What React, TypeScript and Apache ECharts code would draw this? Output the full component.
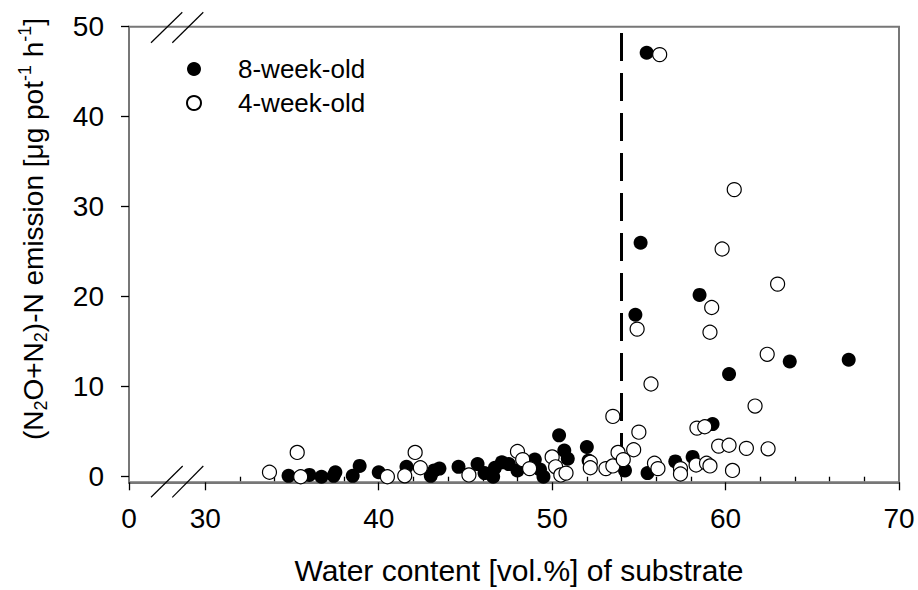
import React, { useEffect, useRef } from 'react';
import * as echarts from 'echarts';

// ---------- data ----------
const seriesNames = ['8-week-old', '4-week-old'];

// 8-week-old plants (filled circles): [water content vol.%, emission µg pot-1 h-1]
const week8: [number, number][] = [
  [34.8, 0.1], [36.0, 0.2], [36.7, 0.0], [37.4, 0.1], [37.5, 0.5], [38.5, 0.1],
  [38.9, 1.2], [40.0, 0.5], [41.6, 1.1], [43.0, 0.1], [43.2, 0.7], [43.5, 0.9],
  [44.6, 1.1], [45.7, 1.4], [46.1, 0.4], [46.6, 0.0], [46.7, 1.0], [47.1, 1.6],
  [47.5, 1.4], [48.0, 0.7], [49.0, 1.9], [49.3, 0.8], [49.5, 0.0], [50.4, 4.6],
  [50.7, 2.9], [50.9, 2.0], [52.0, 3.3], [52.1, 1.8], [54.2, 0.7], [55.5, 0.4],
  [57.1, 1.7], [58.1, 2.2], [59.25, 5.85], [60.2, 11.4], [63.7, 12.8], [67.1, 13.0],
  [55.1, 26.0], [58.5, 20.2], [54.8, 18.0], [55.45, 47.1],
];

// 4-week-old plants (open circles)
const week4: [number, number][] = [
  [33.7, 0.5], [35.3, 2.7], [35.5, 0.0], [40.5, 0.0], [41.5, 0.1], [42.1, 2.7],
  [42.4, 1.0], [45.2, 0.2], [48.0, 2.8], [48.3, 1.9], [48.7, 0.9], [50.0, 2.2],
  [50.2, 1.1], [50.5, 0.2], [50.8, 0.4], [52.2, 1.6], [52.2, 1.0], [53.1, 0.9],
  [53.5, 1.2], [53.5, 6.7], [53.8, 2.7], [54.1, 1.9], [54.7, 3.0], [55.0, 4.95],
  [55.7, 10.3], [55.9, 1.5], [56.1, 0.9], [57.4, 0.9], [57.4, 0.3], [58.3, 1.3],
  [58.35, 5.4], [58.8, 5.55], [58.9, 1.5], [59.1, 1.2], [59.6, 3.4], [60.2, 3.5],
  [60.4, 0.7], [61.2, 3.15], [61.7, 7.85], [62.45, 3.1], [60.5, 31.9], [59.8, 25.3],
  [63.0, 21.4], [59.2, 18.8], [54.9, 16.4], [59.1, 16.05], [62.4, 13.6], [56.2, 46.9],
];

// threshold (dashed vertical line)
const thresholdLine: [number, number][] = [[54, 49.3], [54, 0]];

// axes (the x axis is broken: its left end stands for 0)
const xAxisStart = 25.6;
const xAxisEnd = 70;
const xMajorTicks = [xAxisStart, 30, 40, 50, 60, 70];
const xTickLabels = ['0', '30', '40', '50', '60', '70'];
const xMinorTicks = [32, 34, 36, 38, 42, 44, 46, 48, 52, 54, 56, 58, 62, 64, 66, 68];
const yAxisStart = -0.62;
const yAxisEnd = 50;
const yTicks = [0, 10, 20, 30, 40, 50];

const xTitle = 'Water content [vol.%] of substrate';
const yTitleRich =
  '{n|(N}{sub|2}{n|O+N}{sub|2}{n|)-N emission [\u03BCg pot}{sup|-1}{n| h}{sup|-1}{n|]}';

// ---------- chart ----------
const FONT = 'Arial, "Liberation Sans", sans-serif';
const AXIS_COLOR = '#777';

export default function App() {
  const ref = useRef<HTMLDivElement>(null);

  useEffect(() => {
    document.body.style.margin = '0';
    if (!ref.current) return;
    const chart = echarts.init(ref.current, null, { renderer: 'svg' });

    const xLabel = (v: number) => {
      const i = xMajorTicks.findIndex((t) => Math.abs(t - v) < 1e-6);
      return i >= 0 ? xTickLabels[i] : '';
    };

    const slash = (x1: number, y1: number, x2: number, y2: number) => ({
      type: 'line',
      z: 100,
      shape: { x1, y1, x2, y2 },
      style: { stroke: '#000', lineWidth: 1.2 },
    });

    chart.setOption({
      animation: false,
      backgroundColor: '#fff',
      grid: {
        left: 129,
        right: 19,
        top: 26.7,
        bottom: 107.7,
        show: true,
        borderColor: AXIS_COLOR,
        borderWidth: 2,
        backgroundColor: 'transparent',
      },
      legend: {
        data: seriesNames,
        orient: 'vertical',
        left: 186,
        top: 56,
        padding: 0,
        itemWidth: 14,
        itemHeight: 14,
        itemGap: 8,
        icon: 'circle',
        textStyle: {
          fontFamily: FONT,
          fontSize: 26,
          color: '#000',
          lineHeight: 24,
          padding: [0, 0, 0, 32],
        },
      },
      xAxis: [
        {
          type: 'value',
          min: xAxisStart,
          max: xAxisEnd,
          axisLine: { show: true, onZero: false, lineStyle: { color: AXIS_COLOR, width: 2 } },
          axisTick: {
            show: true,
            customValues: xMajorTicks,
            length: 8,
            lineStyle: { color: '#000', width: 1.3 },
          },
          axisLabel: {
            customValues: xMajorTicks,
            formatter: xLabel,
            fontFamily: FONT,
            fontSize: 28,
            color: '#000',
            margin: 22,
          },
          splitLine: { show: false },
        },
        {
          type: 'value',
          position: 'bottom',
          min: xAxisStart,
          max: xAxisEnd,
          axisLine: { show: false },
          axisTick: {
            show: true,
            customValues: xMinorTicks,
            length: 4.5,
            lineStyle: { color: '#000', width: 1.3 },
          },
          axisLabel: { show: false },
          splitLine: { show: false },
        },
      ],
      yAxis: {
        type: 'value',
        min: yAxisStart,
        max: yAxisEnd,
        axisLine: { show: true, onZero: false, lineStyle: { color: AXIS_COLOR, width: 2 } },
        axisTick: {
          show: true,
          customValues: yTicks,
          length: 8,
          lineStyle: { color: '#000', width: 1.3 },
        },
        axisLabel: {
          customValues: yTicks,
          fontFamily: FONT,
          fontSize: 28,
          color: '#000',
          margin: 25,
        },
        splitLine: { show: false },
      },
      series: [
        {
          name: 'threshold',
          type: 'line',
          data: thresholdLine,
          symbol: 'none',
          silent: true,
          z: 1,
          lineStyle: { color: '#000', width: 3, type: [28, 12] },
        },
        {
          name: seriesNames[0],
          type: 'scatter',
          data: week8,
          symbol: 'circle',
          symbolSize: 14,
          z: 3,
          itemStyle: { color: '#000', opacity: 1 },
        },
        {
          name: seriesNames[1],
          type: 'scatter',
          data: week4,
          symbol: 'circle',
          symbolSize: 14,
          z: 4,
          itemStyle: { color: '#fff', borderColor: '#000', borderWidth: 1.2, opacity: 1 },
        },
      ],
      graphic: [
        slash(151, 497.3, 182.7, 466),
        slash(172.3, 497.3, 203.3, 466),
        slash(151, 42.7, 182.3, 12.3),
        slash(172.3, 42.7, 203.3, 12.3),
        {
          type: 'text',
          x: 519,
          y: 570,
          style: {
            text: xTitle,
            fontFamily: FONT,
            fontSize: 30,
            fill: '#000',
            align: 'center',
            verticalAlign: 'middle',
          },
        },
        {
          type: 'text',
          x: 33,
          y: 229,
          rotation: Math.PI / 2,
          style: {
            text: yTitleRich,
            align: 'center',
            verticalAlign: 'middle',
            fill: '#000',
            rich: {
              n: { fontFamily: FONT, fontSize: 28, lineHeight: 34, fill: '#000' },
              sub: { fontFamily: FONT, fontSize: 18, lineHeight: 18, verticalAlign: 'bottom', fill: '#000' },
              sup: { fontFamily: FONT, fontSize: 18, lineHeight: 18, verticalAlign: 'top', fill: '#000' },
            },
          },
        },
      ],
    });

    return () => chart.dispose();
  }, []);

  return <div ref={ref} style={{ width: 918, height: 590 }} />;
}
